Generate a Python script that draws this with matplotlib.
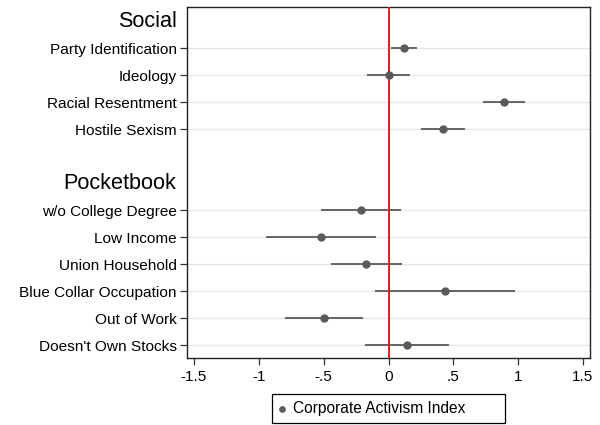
import matplotlib.pyplot as plt
from matplotlib.lines import Line2D
from matplotlib.patches import Rectangle

plt.rcParams['font.family'] = ['Liberation Sans', 'DejaVu Sans']

# rows, top to bottom; header rows carry no estimate
social = ['Party Identification', 'Ideology', 'Racial Resentment', 'Hostile Sexism']
social_est = [0.12, 0.0, 0.89, 0.42]
social_lo = [0.02, -0.165, 0.725, 0.25]
social_hi = [0.22, 0.167, 1.056, 0.59]

pocket = ['w/o College Degree', 'Low Income', 'Union Household',
          'Blue Collar Occupation', 'Out of Work', "Doesn't Own Stocks"]
pocket_est = [-0.21, -0.52, -0.17, 0.435, -0.495, 0.14]
pocket_lo = [-0.52, -0.945, -0.445, -0.105, -0.795, -0.185]
pocket_hi = [0.10, -0.095, 0.105, 0.976, -0.196, 0.463]

headers = ['Social', 'Pocketbook']
xticks = [-1.5, -1, -0.5, 0, 0.5, 1, 1.5]
xticklabels = ['-1.5', '-1', '-.5', '0', '.5', '1', '1.5']

labels = social + pocket
est = social_est + pocket_est
lo = social_lo + pocket_lo
hi = social_hi + pocket_hi
ypos = list(range(2, 2 + len(social))) + list(range(8, 8 + len(pocket)))
header_pos = [1, 7]

fig = plt.figure(figsize=(6, 4.25), dpi=100)
ax = fig.add_axes([0.311, 0.158, 0.673, 0.825])

for y in ypos:
    ax.axhline(y, color='#e6e6e6', lw=1, zorder=0)
ax.axvline(0, color='#e41a1c', lw=1.4, zorder=3)
ax.hlines(ypos, lo, hi, color='#5a5a5a', lw=1.3, zorder=2)
ax.plot(est, ypos, 'o', color='#5a5a5a', ms=5, zorder=4)

ax.set_xlim(-1.557, 1.557)
ax.set_ylim(13.46, 0.49)
ax.set_xticks(xticks)
ax.set_xticklabels(xticklabels)
ax.set_yticks(ypos)
ax.set_yticklabels(labels)
ax.tick_params(axis='both', labelsize=11.1, length=5, width=0.9, color='#333333')
ax.tick_params(axis='y', pad=2)
for s in ax.spines.values():
    s.set_linewidth(1)
    s.set_color('#222222')

for h, y in zip(headers, header_pos):
    ax.text(-0.025, y, h, transform=ax.get_yaxis_transform(),
            ha='right', va='center', fontsize=15.6)

# Stata-style legend box below the plot
fig.add_artist(Rectangle((272 / 600, 1 - 423 / 425), 233 / 600, 29 / 425,
                         transform=fig.transFigure, fill=False,
                         edgecolor='black', lw=0.9))
fig.add_artist(Line2D([282 / 600], [1 - 408.5 / 425], marker='o', ls='none',
                      color='#5a5a5a', ms=3.8, transform=fig.transFigure))
fig.text(293 / 600, 1 - 408.5 / 425, 'Corporate Activism Index',
         ha='left', va='center', fontsize=11.2)

fig.savefig('out.png', dpi=100)
